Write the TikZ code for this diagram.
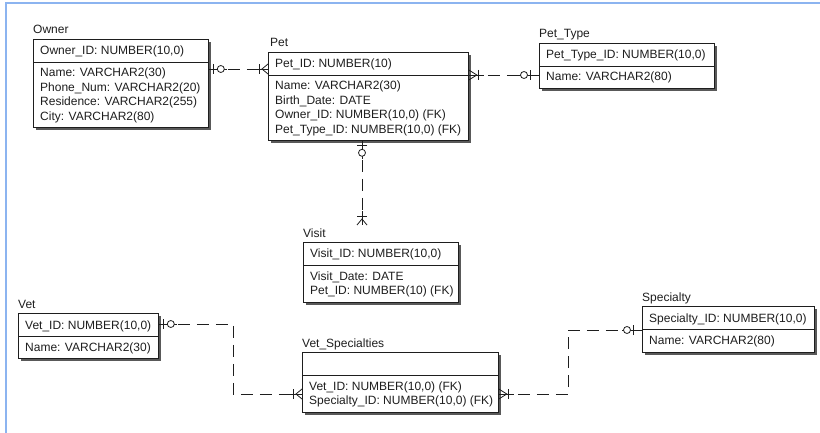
\documentclass[tikz,border=0pt]{standalone}
\usepackage{fontspec}
\setmainfont{Liberation Sans}
\usetikzlibrary{calc,shadows}
\definecolor{framebl}{RGB}{140,180,240}
\definecolor{inkc}{RGB}{30,30,30}
\begin{document}
\begin{tikzpicture}[x=1pt,y=-1pt,
  font=\fontsize{12}{14.5}\selectfont, text=inkc,
  ebox/.style={draw=inkc, line width=0.8pt, fill=white, anchor=north west, inner sep=0pt,
    drop shadow={shadow xshift=3pt, shadow yshift=-3pt, fill=black!65, opacity=1}},
  txt/.style={anchor=base west, inner sep=0pt},
  divline/.style={draw=inkc, line width=0.8pt},
  conn/.style={draw=inkc, line width=0.8pt, dash pattern=on 12pt off 7pt},
  sym/.style={draw=inkc, line width=0.8pt},
  zeroone/.pic={\draw[sym] (0,0) -- (18,0); \draw[sym] (4.5,-5) -- (4.5,5);
     \draw[sym,fill=white] (12,0) circle[radius=3.5pt];},
  zerooneb/.pic={\draw[sym] (0,0) -- (20,0); \draw[sym] (9,-5) -- (9,5);
     \draw[sym,fill=white] (15,0) circle[radius=3.5pt];},
  crowa/.pic={\draw[sym] (0,0) -- (14,0); \draw[sym] (9,-5) -- (9,5);
     \draw[sym] (0,-5) -- (6,0) -- (0,5);},
  crowb/.pic={\draw[sym] (0,0) -- (15,0); \draw[sym] (10,-5) -- (10,5);
     \draw[sym] (0,-5) -- (8,0) -- (0,5);}
]
\useasboundingbox (0,0) rectangle (820,433);
\fill[white] (0,0) rectangle (820,433);
\draw[framebl, line width=1.5pt] (6,433) -- (6,3) -- (820,3);

% ---------- Owner
\node[ebox, minimum width=175pt, minimum height=88pt] (owner) at (33,39) {};
\draw[divline] ($(owner.north west)+(0,23)$) -- ($(owner.north east)+(0,23)$);
\node[txt] (ownert) at ($(owner.north west)+(0,-5)$) {Owner};
\node[txt] (ownerk) at ($(owner.north west)+(7,16)$) {Owner\_ID: NUMBER(10,0)};
\node[txt] (ownera1) at ($(owner.north west)+(7,38)$) {Name: VARCHAR2(30)};
\node[txt] (ownera2) at ($(owner.north west)+(7,52.5)$) {Phone\_Num: VARCHAR2(20)};
\node[txt] (ownera3) at ($(owner.north west)+(7,67)$) {Residence: VARCHAR2(255)};
\node[txt] (ownera4) at ($(owner.north west)+(7,81.5)$) {City: VARCHAR2(80)};

% ---------- Pet
\node[ebox, minimum width=200pt, minimum height=88pt] (pet) at (268,52) {};
\draw[divline] ($(pet.north west)+(0,23)$) -- ($(pet.north east)+(0,23)$);
\node[txt] (pett) at ($(pet.north west)+(2,-5)$) {Pet};
\node[txt] (petk) at ($(pet.north west)+(7,16)$) {Pet\_ID: NUMBER(10)};
\node[txt] (peta1) at ($(pet.north west)+(7,38)$) {Name: VARCHAR2(30)};
\node[txt] (peta2) at ($(pet.north west)+(7,52.5)$) {Birth\_Date: DATE};
\node[txt] (peta3) at ($(pet.north west)+(7,67)$) {Owner\_ID: NUMBER(10,0) (FK)};
\node[txt] (peta4) at ($(pet.north west)+(7,81.5)$) {Pet\_Type\_ID: NUMBER(10,0) (FK)};

% ---------- Pet_Type
\node[ebox, minimum width=175pt, minimum height=45pt] (ptype) at (539,43) {};
\draw[divline] ($(ptype.north west)+(0,23)$) -- ($(ptype.north east)+(0,23)$);
\node[txt] (ptypet) at ($(ptype.north west)+(0,-5)$) {Pet\_Type};
\node[txt] (ptypek) at ($(ptype.north west)+(7,16)$) {Pet\_Type\_ID: NUMBER(10,0)};
\node[txt] (ptypea1) at ($(ptype.north west)+(7,38)$) {Name: VARCHAR2(80)};

% ---------- Visit
\node[ebox, minimum width=155pt, minimum height=60pt] (visit) at (303,242) {};
\draw[divline] ($(visit.north west)+(0,23)$) -- ($(visit.north east)+(0,23)$);
\node[txt] (visitt) at ($(visit.north west)+(0,-5)$) {Visit};
\node[txt] (visitk) at ($(visit.north west)+(7,16)$) {Visit\_ID: NUMBER(10,0)};
\node[txt] (visita1) at ($(visit.north west)+(7,38)$) {Visit\_Date: DATE};
\node[txt] (visita2) at ($(visit.north west)+(7,52.5)$) {Pet\_ID: NUMBER(10) (FK)};

% ---------- Vet
\node[ebox, minimum width=140pt, minimum height=45pt] (vet) at (18,313) {};
\draw[divline] ($(vet.north west)+(0,23)$) -- ($(vet.north east)+(0,23)$);
\node[txt] (vett) at ($(vet.north west)+(0,-5)$) {Vet};
\node[txt] (vetk) at ($(vet.north west)+(7,16)$) {Vet\_ID: NUMBER(10,0)};
\node[txt] (veta1) at ($(vet.north west)+(7,38)$) {Name: VARCHAR2(30)};

% ---------- Vet_Specialties
\node[ebox, minimum width=196pt, minimum height=60pt] (vspec) at (302,352) {};
\draw[divline] ($(vspec.north west)+(0,23)$) -- ($(vspec.north east)+(0,23)$);
\node[txt] (vspect) at ($(vspec.north west)+(0,-5)$) {Vet\_Specialties};
\node[txt] (vspeca1) at ($(vspec.north west)+(7,38)$) {Vet\_ID: NUMBER(10,0) (FK)};
\node[txt] (vspeca2) at ($(vspec.north west)+(7,52.5)$) {Specialty\_ID: NUMBER(10,0) (FK)};

% ---------- Specialty
\node[ebox, minimum width=172pt, minimum height=46pt] (spec) at (642,306) {};
\draw[divline] ($(spec.north west)+(0,23)$) -- ($(spec.north east)+(0,23)$);
\node[txt] (spect) at ($(spec.north west)+(0,-5)$) {Specialty};
\node[txt] (speck) at ($(spec.north west)+(7,16)$) {Specialty\_ID: NUMBER(10,0)};
\node[txt] (speca1) at ($(spec.north west)+(7,38)$) {Name: VARCHAR2(80)};

% ---------- connectors
\coordinate (yA) at (0,69);
\coordinate (yB) at (0,75);
\coordinate (yD) at (0,324);
\coordinate (yDb) at (0,394);
\coordinate (yE) at (0,330);
\coordinate (xD) at (233,0);
\coordinate (xE) at (568,0);
\coordinate (vend) at ($(visit.north west)+(59,-17)$);

% Owner - Pet
\draw[conn] (owner.east |- yA) -- (pet.west |- yA);
\pic at (owner.east |- yA) {zeroone};
\pic[rotate=180] at (pet.west |- yA) {crowa};

% Pet - Pet_Type
\draw[conn] (pet.east |- yB) -- (ptype.west |- yB);
\pic at (pet.east |- yB) {crowb};
\pic[rotate=180] at (ptype.west |- yB) {zerooneb};

% Pet - Visit
\draw[conn] (pet.south -| vend) -- (vend);
\pic[rotate=-90] at (pet.south -| vend) {zeroone};
\pic[rotate=90] at (vend) {crowa};

% Vet - Vet_Specialties
\draw[conn] (vet.east |- yD) -- (xD |- yD) -- (xD |- yDb) -- (vspec.west |- yDb);
\pic at (vet.east |- yD) {zeroone};
\pic[rotate=180] at (vspec.west |- yDb) {crowa};

% Vet_Specialties - Specialty
\draw[conn] (vspec.east |- yDb) -- (xE |- yDb) -- (xE |- yE) -- (spec.west |- yE);
\pic at (vspec.east |- yDb) {crowb};
\pic[rotate=180] at (spec.west |- yE) {zerooneb};
\end{tikzpicture}
\end{document}
